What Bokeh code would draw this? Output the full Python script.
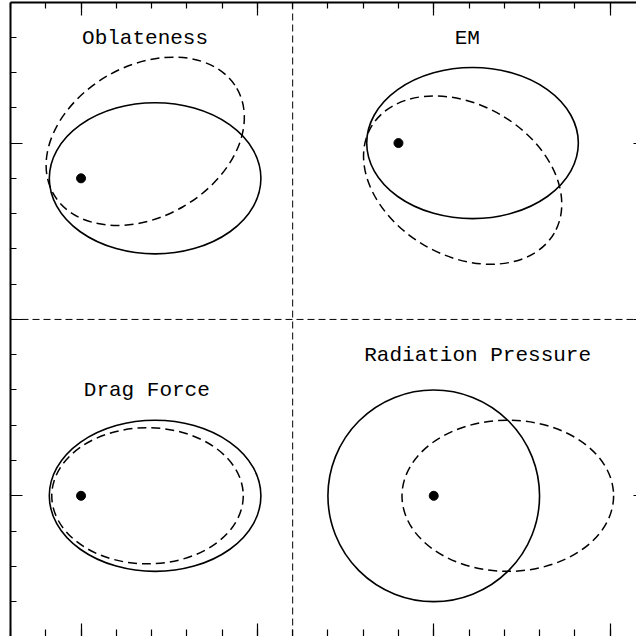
from bokeh.plotting import figure
from bokeh.models import Range1d, LinearAxis, FixedTicker, Span, ColumnDataSource
from bokeh.core.properties import value
from bokeh.embed import file_html
from bokeh.resources import INLINE

# ---- data (units: one major tick) ----
panel_names = ["Oblateness", "EM", "Drag Force", "Radiation Pressure"]
title_x = [0.363, 2.19, 0.373, 2.249]
title_y = [2.591, 2.591, 0.597, 0.794]

# central body (dot)
focus_x = [0.0, 1.8, 0.0, 2.0]
focus_y = [1.8, 2.0, 0.0, 0.0]

# unperturbed orbit (solid)
orbit_x = [0.42, 2.22, 0.42, 2.0]
orbit_y = [1.8, 2.0, 0.0, 0.0]
orbit_w = [1.2, 1.2, 1.2, 1.2]
orbit_h = [0.857, 0.857, 0.857, 1.2]
orbit_angle = [0, 0, 0, 0]

# perturbed orbit (dashed)
pert_x = [0.364, 2.164, 0.377, 2.42]
pert_y = [2.01, 1.79, 0.0, 0.0]
pert_w = [1.2, 1.2, 1.086, 1.2]
pert_h = [0.857, 0.857, 0.772, 0.857]
pert_angle = [30, -30, 0, 0]

# ticks
x_major = [0, 1, 2, 3]
x_minor = [-0.4, -0.2, 0.0, 0.2, 0.4, 0.6, 0.8, 1.0, 1.2, 1.4, 1.6, 1.8, 2.0,
           2.2, 2.4, 2.6, 2.8, 3.0, 3.2]
y_major = [0, 1, 2]
y_minor = [-0.8, -0.6, -0.4, -0.2, 0.0, 0.2, 0.4, 0.6, 0.8, 1.0, 1.2, 1.4,
           1.6, 1.8, 2.0, 2.2, 2.4, 2.6, 2.8]
divider_x = 1.2
divider_y = 1.0

p = figure(width=636, height=636, output_backend="svg", toolbar_location=None,
           x_range=Range1d(-0.4, 3.1498), y_range=Range1d(-0.7978, 2.797),
           x_axis_location=None, y_axis_location=None,
           min_border_left=10, min_border_right=0, min_border_top=2,
           min_border_bottom=0)
p.outline_line_color = None
p.xgrid.visible = False
p.ygrid.visible = False
p.background_fill_color = "white"
p.border_fill_color = "white"


def make_axis(ticks, minors, major_in, minor_in, line):
    ax = LinearAxis(ticker=FixedTicker(ticks=ticks, minor_ticks=minors))
    ax.major_tick_in = major_in
    ax.major_tick_out = 0
    ax.minor_tick_in = minor_in
    ax.minor_tick_out = 0
    ax.major_label_overrides = {t: "" for t in ticks}
    ax.major_label_text_font_size = "0px"
    ax.major_label_standoff = 0
    ax.axis_label = None
    ax.major_tick_line_color = "black"
    ax.minor_tick_line_color = "black"
    ax.major_tick_line_width = 1.2
    ax.minor_tick_line_width = 1.2
    if line:
        ax.axis_line_color = "black"
        ax.axis_line_width = 2
    else:
        ax.axis_line_color = None
    return ax


p.add_layout(make_axis(y_major, y_minor, 12, 6, True), "left")
p.add_layout(make_axis(x_major, x_minor, 13, 6, True), "above")
p.add_layout(make_axis(x_major, x_minor, 13, 7, False), "below")
p.add_layout(make_axis(y_major, y_minor, 3, 0, False), "right")

p.add_layout(Span(location=divider_x, dimension="height", line_color="black",
                  line_width=1, line_dash="7 4"))
p.add_layout(Span(location=divider_y, dimension="width", line_color="black",
                  line_width=1, line_dash="7 4"))

orbits = ColumnDataSource(dict(x=orbit_x, y=orbit_y, w=orbit_w, h=orbit_h, a=orbit_angle))
perts = ColumnDataSource(dict(x=pert_x, y=pert_y, w=pert_w, h=pert_h, a=pert_angle))

p.ellipse(x="x", y="y", width="w", height="h", angle="a", angle_units="deg",
          source=orbits, fill_color=None, line_color="black", line_width=1.6)
p.ellipse(x="x", y="y", width="w", height="h", angle="a", angle_units="deg",
          source=perts, fill_color=None, line_color="black", line_width=1.5,
          line_dash="9 5")

p.scatter(x=focus_x, y=focus_y, size=9, color="black")

p.text(x=title_x, y=title_y, text=panel_names, text_font=value("Liberation Mono"),
       text_font_size="21px", text_align="center", text_baseline="alphabetic",
       text_color="black")

open("out.html", "w").write(file_html(p, INLINE))
